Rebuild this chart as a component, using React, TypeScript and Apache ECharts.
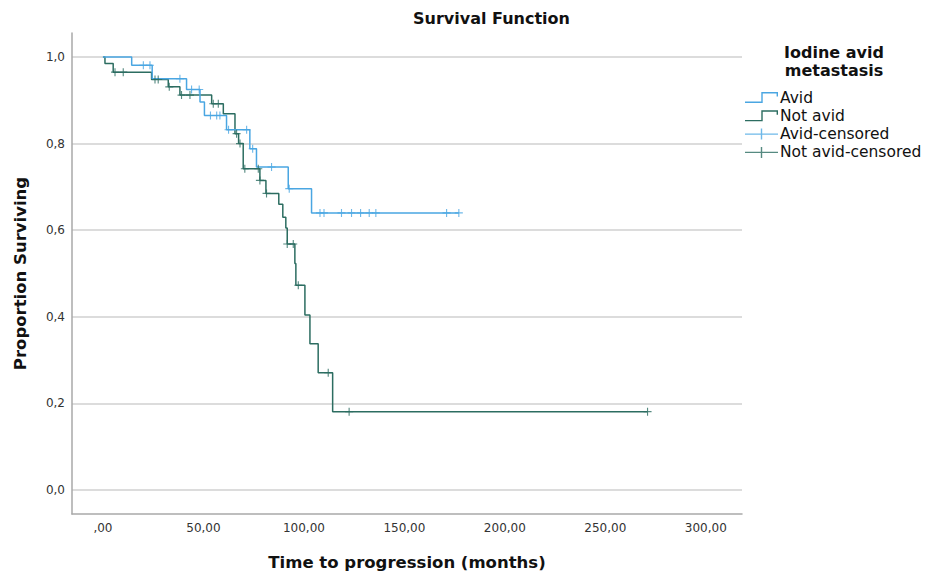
import React, { useEffect, useRef } from 'react';
import * as echarts from 'echarts';

// Kaplan-Meier steps: time (months) at which survival drops, and new value
const avidTimes = [0, 14.3, 24.5, 41.6, 48.3, 50.5, 61.5, 73.1, 76.4, 92.2, 103.8, 177.1];
const avidSurv = [1.0, 0.981, 0.95, 0.925, 0.896, 0.865, 0.832, 0.788, 0.746, 0.696, 0.64, 0.64];

const notAvidTimes = [0, 1.0, 5.1, 24.2, 32.5, 38.3, 54.1, 59.9, 65.7, 67.5, 69.8, 78.1, 81.1, 87.5, 89.5, 91.0, 91.7, 95.5, 96.0, 100.5, 103.0, 107.1, 114.3, 271];
const notAvidSurv = [1.0, 0.985, 0.965, 0.948, 0.931, 0.912, 0.892, 0.869, 0.823, 0.8, 0.742, 0.715, 0.685, 0.66, 0.63, 0.605, 0.568, 0.523, 0.473, 0.404, 0.338, 0.271, 0.181, 0.181];

const avidCensorTimes = [20.1, 23.4, 38.3, 44.1, 47.9, 53.5, 56.6, 58.2, 62.5, 71.5, 74.5, 83.9, 92.7, 108, 110, 118.7, 123.7, 128.2, 132.5, 135.8, 171, 177.1];
const avidCensorSurv = [0.981, 0.981, 0.95, 0.925, 0.925, 0.865, 0.865, 0.865, 0.832, 0.832, 0.788, 0.746, 0.696, 0.64, 0.64, 0.64, 0.64, 0.64, 0.64, 0.64, 0.64, 0.64];

const notAvidCensorTimes = [6.0, 10.1, 25.9, 27.5, 33, 39.1, 43.3, 54.9, 57.4, 66.5, 68.2, 70.6, 77.3, 78.1, 81.4, 91.7, 94.7, 97.2, 112.1, 122.5, 271];
const notAvidCensorSurv = [0.965, 0.965, 0.948, 0.948, 0.931, 0.912, 0.912, 0.892, 0.892, 0.823, 0.8, 0.742, 0.742, 0.715, 0.685, 0.568, 0.568, 0.473, 0.271, 0.181, 0.181];

const xTicks = [0, 50, 100, 150, 200, 250, 300];
const xTickLabels = [',00', '50,00', '100,00', '150,00', '200,00', '250,00', '300,00'];
const yTicks = [0, 0.2, 0.4, 0.6, 0.8, 1.0];
const yTickLabels = ['0,0', '0,2', '0,4', '0,6', '0,8', '1,0'];

const seriesNames = ['Avid', 'Not avid', 'Avid-censored', 'Not avid-censored'];

const zip = (a: number[], b: number[]) => a.map((v, i) => [v, b[i]]);

export default function App() {
  const ref = useRef<HTMLDivElement>(null);
  useEffect(() => {
    const chart = echarts.init(ref.current!, null, { renderer: 'svg' });
    const font = 'DejaVu Sans';
    const blue = '#4aa6e2';
    const green = '#2c6d61';
    const plus =
      'path://M-0.14,-1L0.14,-1L0.14,-0.14L1,-0.14L1,0.14L0.14,0.14L0.14,1L-0.14,1L-0.14,0.14L-1,0.14L-1,-0.14L-0.14,-0.14Z';
    const stepIcon = 'path://M0,9.6L16.3,9.6L16.3,0L33,0L33,4.5L31.6,4.5L31.6,1.4L17.7,1.4L17.7,11L0,11Z';
    const plusIcon =
      'path://M0,4.8L15.8,4.8L15.8,0L17.2,0L17.2,4.8L33,4.8L33,6.2L17.2,6.2L17.2,11L15.8,11L15.8,6.2L0,6.2Z';
    const xLabel = (v: number) => {
      const i = xTicks.findIndex((t) => Math.abs(t - v) < 1e-6);
      return i >= 0 ? xTickLabels[i] : '';
    };
    const yLabel = (v: number) => {
      const i = yTicks.findIndex((t) => Math.abs(t - v) < 1e-6);
      return i >= 0 ? yTickLabels[i] : '';
    };
    chart.setOption({
      animation: false,
      backgroundColor: '#ffffff',
      textStyle: { fontFamily: font },
      title: [
        {
          text: 'Survival Function',
          left: 408,
          top: 5,
          textStyle: { fontFamily: font, fontSize: 16, fontWeight: 'bold', color: '#111' },
        },
        {
          text: 'Iodine avid\nmetastasis',
          left: 829,
          top: 38,
          textAlign: 'center',
          textStyle: { fontFamily: font, fontSize: 16, fontWeight: 'bold', color: '#111', lineHeight: 18 },
        },
      ],
      legend: {
        orient: 'vertical',
        left: 740,
        top: 84.5,
        itemWidth: 33,
        itemHeight: 11,
        itemGap: 2.3,
        textStyle: { fontFamily: font, fontSize: 15.5, lineHeight: 16, color: '#111', padding: [0, 0, 0, -3] },
        data: [
          { name: seriesNames[0], icon: stepIcon },
          { name: seriesNames[1], icon: stepIcon },
          { name: seriesNames[2], icon: plusIcon },
          { name: seriesNames[3], icon: plusIcon },
        ],
      },
      grid: { left: 72, right: 184, top: 33, bottom: 62, containLabel: false },
      xAxis: {
        type: 'value',
        min: -15.4,
        max: 318,
        name: 'Time to progression (months)',
        nameLocation: 'middle',
        nameGap: 40,
        nameTextStyle: { fontFamily: font, fontSize: 16.5, fontWeight: 'bold', color: '#111' },
        axisLine: { show: true, onZero: false, lineStyle: { color: '#a9a9a9', width: 1.5 } },
        axisTick: { show: false, customValues: xTicks },
        splitLine: { show: false },
        axisLabel: {
          customValues: xTicks,
          formatter: xLabel,
          fontFamily: font,
          fontSize: 12,
          color: '#333',
          margin: 8,
        },
      },
      yAxis: {
        type: 'value',
        min: -0.0554,
        max: 1.0554,
        name: 'Proportion Surviving',
        nameLocation: 'middle',
        nameGap: 43,
        nameTextStyle: { fontFamily: font, fontSize: 16.5, fontWeight: 'bold', color: '#111' },
        axisLine: { show: true, onZero: false, lineStyle: { color: '#a9a9a9', width: 1.5 } },
        axisTick: { show: false, customValues: yTicks },
        splitLine: { show: true, lineStyle: { color: '#d0d0d0', width: 1.5 } },
        axisLabel: {
          customValues: yTicks,
          formatter: yLabel,
          fontFamily: font,
          fontSize: 12,
          color: '#333',
          margin: 7,
        },
      },
      series: [
        {
          name: seriesNames[1],
          type: 'line',
          step: 'end',
          data: zip(notAvidTimes, notAvidSurv),
          showSymbol: false,
          color: green,
          lineStyle: { color: green, width: 1.5 },
          z: 2,
        },
        {
          name: seriesNames[0],
          type: 'line',
          step: 'end',
          data: zip(avidTimes, avidSurv),
          showSymbol: false,
          color: blue,
          lineStyle: { color: blue, width: 1.5 },
          z: 3,
        },
        {
          name: seriesNames[2],
          type: 'scatter',
          data: zip(avidCensorTimes, avidCensorSurv),
          symbol: plus,
          symbolSize: 8,
          color: blue,
          itemStyle: { color: blue },
          z: 4,
        },
        {
          name: seriesNames[3],
          type: 'scatter',
          data: zip(notAvidCensorTimes, notAvidCensorSurv),
          symbol: plus,
          symbolSize: 8,
          color: green,
          itemStyle: { color: green },
          z: 4,
        },
      ],
    });
    return () => chart.dispose();
  }, []);
  return <div ref={ref} style={{ position: 'fixed', left: 0, top: 0, width: 926, height: 576 }} />;
}
